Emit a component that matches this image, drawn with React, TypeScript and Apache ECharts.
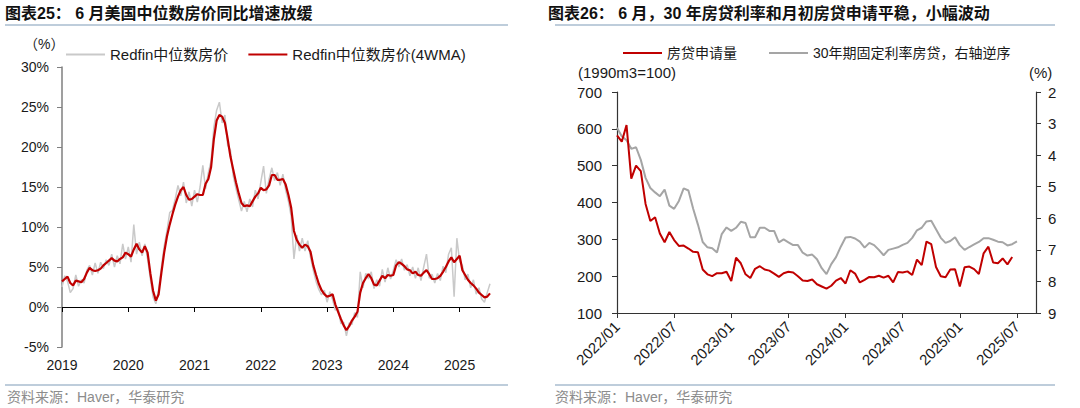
import React, { useEffect, useRef } from "react";
import * as echarts from "echarts";

const FONT = "Arial, 'Liberation Sans', 'Noto Sans CJK SC', sans-serif";

// ---------- Left chart: Redfin median sale price YoY (%), semi-monthly samples 2019/01 .. 2025/06 ----------
const leftRaw = [
  2.5, 3.9, 3.2, 1.8, 2.3, 4.0, 2.6, 3.4, 3.0, 4.6, 5.2, 4.0, 5.5, 4.2, 5.6, 4.8, 5.9, 5.2, 6.6, 5.0, 6.4, 5.4, 7.9, 6.0,
  7.5, 5.6, 10.3, 6.6, 8.1, 6.4, 7.9, 6.0, 3.5, 1.2, 0.4, 2.2, 5.0, 7.6, 9.5, 11.8, 12.1, 13.5, 15.2, 13.9, 15.6, 13.0, 14.4, 12.6,
  14.6, 13.1, 15.0, 17.7, 14.8, 16.8, 18.3, 22.5, 24.6, 25.6, 23.0, 24.0, 20.2, 19.6, 16.4, 14.8, 13.4, 12.0, 13.2, 11.9, 13.5, 12.5, 14.6, 13.5,
  15.6, 17.6, 14.2, 16.0, 17.4, 15.8, 16.8, 15.2, 16.6, 14.6, 13.2, 11.3, 6.0, 9.0, 7.0, 8.6, 7.0, 8.3, 6.2, 4.6, 3.2, 2.2, 1.5, 2.1,
  0.6, 1.9, 0.9, -0.4, -0.1, -2.1, -1.9, -3.6, -2.0, -2.2, -0.7, -1.3, 4.4, 2.4, 4.2, 3.5, 4.4, 2.3, 3.4, 2.6, 4.7, 3.1, 4.9, 3.5,
  4.6, 5.9, 5.0, 6.0, 4.6, 5.3, 3.9, 5.0, 3.6, 4.9, 3.3, 5.0, 6.6, 3.6, 4.1, 3.0, 4.2, 3.3, 5.1, 4.3, 6.6, 7.4, 1.3, 8.6,
  5.7, 5.2, 3.4, 4.1, 2.4, 3.4, 1.6, 2.4, 1.0, 0.6, 1.8, 2.9,
];
const leftMA = [
  3.2, 3.5, 3.8, 3.0, 2.7, 3.3, 3.2, 3.1, 3.5, 4.3, 4.9, 4.6, 4.5, 4.6, 4.8, 5.2, 5.5, 5.8, 6.1, 5.8, 5.7, 6.0, 6.2, 6.8,
  6.6, 6.3, 7.2, 7.9, 7.2, 6.8, 7.6, 6.8, 4.2, 2.0, 0.8, 1.6, 4.3, 6.8, 8.8, 10.3, 11.6, 12.8, 13.8, 14.6, 15.0, 14.0, 13.4, 13.5,
  13.8, 14.1, 14.0, 14.0, 15.4, 16.0, 17.5, 21.0, 23.3, 24.0, 23.8, 23.0, 21.0, 18.8, 17.2, 15.6, 14.2, 13.0, 12.6, 12.7, 12.6, 13.2, 13.8, 14.2,
  14.9, 14.6, 14.7, 15.2, 16.5, 16.5, 15.9, 15.9, 16.0, 15.3, 14.0, 12.4, 9.5, 8.4, 7.8, 7.4, 7.8, 7.6, 6.9, 5.2, 4.0, 2.9, 2.1, 1.6,
  1.3, 1.4, 1.6, 0.3, -0.6, -1.5, -2.3, -2.9, -2.4, -1.7, -1.2, -0.6, 1.8, 3.0, 3.6, 4.1, 3.6, 2.8, 2.7, 3.3, 3.9, 3.6, 4.0, 3.9,
  4.0, 5.2, 5.6, 5.4, 5.1, 4.7, 4.6, 4.2, 4.4, 4.0, 3.9, 4.3, 4.6, 4.1, 3.5, 3.5, 3.6, 3.9, 4.4, 5.0, 5.7, 6.2, 5.6, 6.0,
  6.4, 4.6, 4.0, 3.4, 3.0, 2.7, 2.3, 1.8, 1.5, 1.2, 1.3, 1.7,
];
const leftYearTicks = ["2019", "2020", "2021", "2022", "2023", "2024", "2025"];
const leftCats: string[] = [];
for (let i = 0; i < leftMA.length; i++) {
  const y = 2019 + Math.floor(i / 24);
  const m = Math.floor((i % 24) / 2) + 1;
  leftCats.push(`${y}-${String(m).padStart(2, "0")}-${i % 2 ? "16" : "01"}`);
}

// ---------- Right chart: MBA purchase applications (1990m3=100) & 30Y fixed mortgage rate (%), semi-monthly ----------
const rightApps = [
  582, 565, 610, 465, 500, 485, 396, 350, 360, 316, 292, 320, 298, 282, 283, 275, 266, 265, 218, 205, 200, 208, 208, 212,
  187, 250, 235, 205, 195, 220, 227, 218, 215, 207, 198, 208, 212, 210, 200, 188, 187, 191, 178, 172, 166, 174, 188, 195,
  180, 216, 207, 183, 190, 198, 197, 201, 196, 201, 183, 211, 210, 213, 203, 245, 230, 294, 287, 225, 200, 197, 218, 219,
  172, 224, 226, 219, 206, 262, 280, 237, 235, 248, 232, 252,
];
const rightRate = [
  3.13, 3.4, 3.53, 3.8, 3.75, 4.15, 4.72, 5.04, 5.18, 5.3, 5.09, 5.6, 5.7, 5.45, 5.05, 5.12, 5.7, 6.2, 6.75, 6.92, 6.95, 7.08, 6.5, 6.29,
  6.4, 6.3, 6.11, 6.15, 6.6, 6.6, 6.3, 6.3, 6.4, 6.4, 6.76, 6.67, 6.76, 6.85, 6.85, 7.09, 7.18, 7.15, 7.3, 7.58, 7.77, 7.45, 7.23, 6.9,
  6.61, 6.59, 6.64, 6.74, 6.93, 6.78, 6.85, 7.0, 7.17, 7.0, 6.96, 6.92, 6.84, 6.78, 6.62, 6.38, 6.3, 6.1, 6.08, 6.35, 6.62, 6.78, 6.72, 6.6,
  6.85, 7.0, 6.91, 6.83, 6.75, 6.63, 6.63, 6.68, 6.74, 6.76, 6.86, 6.82, 6.73,
];
const rightCats: string[] = [];
for (let i = 0; i < 89; i++) {
  const y = 2022 + Math.floor(i / 24);
  const m = Math.floor((i % 24) / 2) + 1;
  rightCats.push(`${y}-${String(m).padStart(2, "0")}-${i % 2 ? "16" : "01"}`);
}

const leftTitle = "图表25： 6 月美国中位数房价同比增速放缓";
const rightTitle = "图表26： 6 月，30 年房贷利率和月初房贷申请平稳，小幅波动";
const source = "资料来源：Haver，华泰研究";
const leftNames = ["Redfin中位数房价", "Redfin中位数房价(4WMA)"];
const rightNames = ["房贷申请量", "30年期固定利率房贷，右轴逆序"];

export default function App() {
  const ref = useRef<HTMLDivElement>(null);
  useEffect(() => {
    document.body.style.margin = "0";
    const chart = echarts.init(ref.current!, null, { renderer: "svg" });
    const axisLabelBase = { fontSize: 14, color: "#1a1a1a", fontFamily: FONT };
    const option: any = {
      animation: false,
      backgroundColor: "#fff",
      textStyle: { fontFamily: FONT },
      grid: [
        { left: 62, top: 67, width: 428, height: 280 },
        { left: 617, top: 92, width: 419, height: 221 },
      ],
      legend: [
        {
          data: leftNames,
          left: 66,
          top: 47,
          icon: "rect",
          itemWidth: 39,
          itemHeight: 2,
          itemGap: 20,
          padding: 0,
          textStyle: { fontSize: 15, color: "#1a1a1a", fontFamily: FONT },
        },
        {
          data: rightNames,
          left: 623,
          top: 46,
          icon: "rect",
          itemWidth: 39,
          itemHeight: 2,
          itemGap: 32,
          padding: 0,
          textStyle: { fontSize: 14, color: "#1a1a1a", fontFamily: FONT },
        },
      ],
      xAxis: [
        {
          gridIndex: 0,
          type: "category",
          data: leftCats,
          boundaryGap: false,
          axisLine: { onZero: true, lineStyle: { color: "#000", width: 1.2 } },
          axisTick: { show: true, length: 5, interval: (i: number) => i % 24 === 0, lineStyle: { color: "#000" } },
          axisLabel: { show: false },
        },
        {
          gridIndex: 0,
          type: "category",
          data: leftCats,
          boundaryGap: false,
          position: "bottom",
          axisLine: { show: false, onZero: false },
          axisTick: { show: false },
          axisLabel: {
            ...axisLabelBase,
            margin: 11,
            interval: (i: number) => i % 24 === 0,
            formatter: (v: string) => (leftYearTicks.includes(v.slice(0, 4)) ? v.slice(0, 4) : ""),
          },
        },
        {
          gridIndex: 1,
          type: "category",
          data: rightCats,
          boundaryGap: false,
          axisLine: { lineStyle: { color: "#333", width: 1.2 } },
          axisTick: { show: true, length: 5, interval: (i: number) => i % 12 === 0, lineStyle: { color: "#333" } },
          axisLabel: {
            ...axisLabelBase,
            fontSize: 15,
            rotate: 45,
            margin: 11,
            interval: (i: number) => i % 12 === 0,
            formatter: (v: string) => v.slice(0, 7).replace("-", "/"),
          },
        },
      ],
      yAxis: [
        {
          gridIndex: 0,
          type: "value",
          min: -5,
          max: 30,
          interval: 5,
          axisLine: { show: true, lineStyle: { color: "#7f7f7f", width: 1.5 } },
          axisTick: { show: true, length: 5, lineStyle: { color: "#7f7f7f" } },
          splitLine: { show: false },
          axisLabel: { ...axisLabelBase, margin: 13, formatter: "{value}%" },
        },
        {
          gridIndex: 1,
          type: "value",
          min: 100,
          max: 700,
          interval: 100,
          axisLine: { show: true, lineStyle: { color: "#333", width: 1.2 } },
          axisTick: { show: true, length: 5, lineStyle: { color: "#333" } },
          splitLine: { show: false },
          axisLabel: { ...axisLabelBase, fontSize: 15, margin: 15 },
        },
        {
          gridIndex: 1,
          type: "value",
          min: 2,
          max: 9,
          interval: 1,
          inverse: true,
          position: "right",
          axisLine: { show: true, lineStyle: { color: "#333", width: 1.2 } },
          axisTick: { show: true, length: 5, lineStyle: { color: "#333" } },
          splitLine: { show: false },
          axisLabel: { ...axisLabelBase, fontSize: 15, margin: 12 },
        },
      ],
      series: [
        {
          name: leftNames[0],
          type: "line",
          xAxisIndex: 0,
          yAxisIndex: 0,
          data: leftRaw,
          showSymbol: false,
          symbol: "none",
          color: "#c9c9c9",
          lineStyle: { color: "#c9c9c9", width: 1.5 },
          z: 2,
        },
        {
          name: leftNames[1],
          type: "line",
          xAxisIndex: 0,
          yAxisIndex: 0,
          data: leftMA,
          showSymbol: false,
          symbol: "none",
          color: "#c00000",
          lineStyle: { color: "#c00000", width: 2.2 },
          z: 3,
        },
        {
          name: rightNames[0],
          type: "line",
          xAxisIndex: 2,
          yAxisIndex: 1,
          data: rightApps,
          showSymbol: false,
          symbol: "none",
          color: "#c00000",
          lineStyle: { color: "#c00000", width: 2 },
          z: 3,
        },
        {
          name: rightNames[1],
          type: "line",
          xAxisIndex: 2,
          yAxisIndex: 2,
          data: rightRate,
          showSymbol: false,
          symbol: "none",
          color: "#a5a5a5",
          lineStyle: { color: "#a5a5a5", width: 2 },
          z: 2,
        },
      ],
      graphic: [
        { type: "text", left: 5, top: 5, style: { text: leftTitle, fontSize: 16, fontWeight: "bold", fill: "#111", fontFamily: FONT } },
        { type: "text", left: 548, top: 5, style: { text: rightTitle, fontSize: 16, fontWeight: "bold", fill: "#111", fontFamily: FONT } },
        { type: "line", shape: { x1: 5, y1: 25, x2: 508, y2: 25 }, style: { stroke: "#a9bccf", lineWidth: 1.5 } },
        { type: "line", shape: { x1: 555, y1: 25, x2: 1055, y2: 25 }, style: { stroke: "#a9bccf", lineWidth: 1.5 } },
        { type: "line", shape: { x1: 5, y1: 385, x2: 508, y2: 385 }, style: { stroke: "#a9bccf", lineWidth: 1.5 } },
        { type: "line", shape: { x1: 555, y1: 385, x2: 1055, y2: 385 }, style: { stroke: "#a9bccf", lineWidth: 1.5 } },
        { type: "text", left: 7, top: 390, style: { text: source, fontSize: 14, fill: "#8c8c8c", fontFamily: FONT } },
        { type: "text", left: 555, top: 390, style: { text: source, fontSize: 14, fill: "#8c8c8c", fontFamily: FONT } },
        { type: "text", left: 24, top: 37, style: { text: "（%）", fontSize: 14, fill: "#1a1a1a", fontFamily: FONT } },
        { type: "text", left: 578, top: 65, style: { text: "(1990m3=100)", fontSize: 15, fill: "#1a1a1a", fontFamily: FONT } },
        { type: "text", left: 1029, top: 65, style: { text: "(%)", fontSize: 15, fill: "#1a1a1a", fontFamily: FONT } },
      ],
    };
    chart.setOption(option);
    return () => chart.dispose();
  }, []);
  return <div ref={ref} style={{ width: 1080, height: 408 }} />;
}
